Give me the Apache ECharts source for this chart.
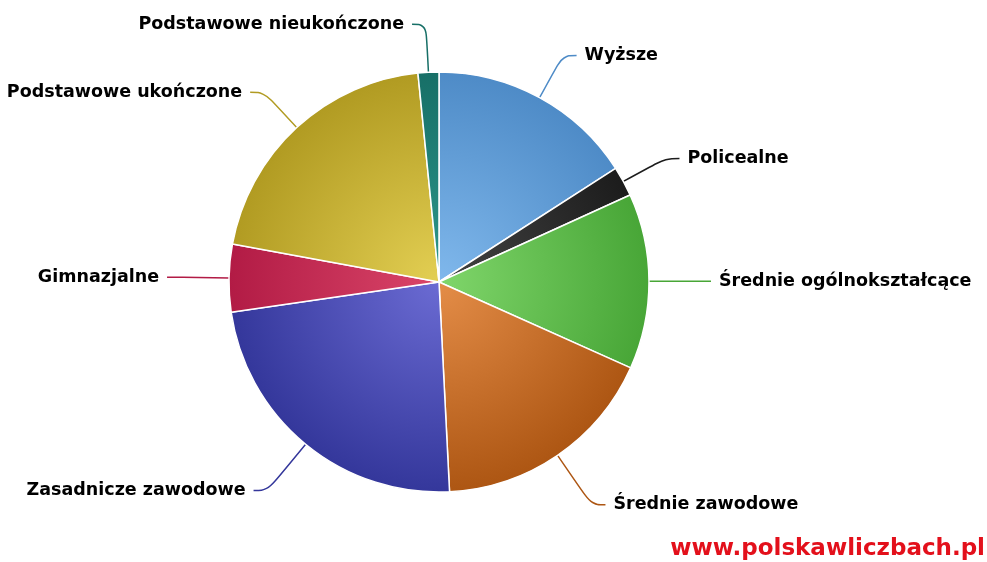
<!DOCTYPE html>
<html>
<head>
<meta charset="utf-8">
<script src="https://cdn.jsdelivr.net/npm/echarts@6/dist/echarts.min.js"></script>
<style>
  html, body { margin: 0; padding: 0; background: #fff; }
  #chart { width: 987px; height: 562px; }
</style>
</head>
<body>
<div id="chart"></div>
<script>
// wykształcenie - udział procentowy
var categories = ['Wyższe', 'Policealne', 'Średnie ogólnokształcące', 'Średnie zawodowe',
                  'Zasadnicze zawodowe', 'Gimnazjalne', 'Podstawowe ukończone', 'Podstawowe nieukończone'];
var values = [15.9, 2.3, 13.5, 17.5, 23.5, 5.2, 20.5, 1.6];

// kolor krawędzi / środka
var edgeColors   = ['#4e8bc7', '#1c1c1c', '#48a637', '#ad5613', '#34379b', '#b21b45', '#b19b22', '#176f67'];
var centerColors = ['#80b8ec', '#444444', '#80d66b', '#e48d48', '#6b6bd3', '#da4669', '#e3cf53', '#2c978b'];
var lineLen = [48, 48, 48, 60, 60, 48, 48, 48];

var cx = 439, cy = 282, R = 210;

var chart = echarts.init(document.getElementById('chart'));
var option = {
    animation: false,
    graphic: [{
        type: 'text',
        right: 2,
        bottom: 1,
        style: {
            text: 'www.polskawliczbach.pl',
            fill: '#e3101b',
            font: 'bold 23px "DejaVu Sans"'
        }
    }],
    series: [{
        type: 'pie',
        center: [cx, cy],
        radius: R,
        startAngle: 90,
        clockwise: true,
        avoidLabelOverlap: false,
        itemStyle: {
            borderColor: '#ffffff',
            borderWidth: 1.5
        },
        label: {
            show: true,
            color: '#000',
            fontFamily: 'DejaVu Sans',
            fontWeight: 'bold',
            fontSize: 17.5,
            distanceToLabelLine: 8
        },
        labelLine: {
            show: true,
            length2: 14,
            smooth: 0.4,
            lineStyle: { width: 1.5 }
        },
        data: categories.map(function(name, i){
            return {
                name: name,
                value: values[i],
                itemStyle: {
                    color: {
                        type: 'radial', x: cx, y: cy, r: R, global: true,
                        colorStops: [
                            { offset: 0, color: centerColors[i] },
                            { offset: 1, color: edgeColors[i] }
                        ]
                    }
                },
                labelLine: { length: lineLen[i], lineStyle: { color: edgeColors[i] } }
            };
        })
    }]
};
chart.setOption(option);
</script>
</body>
</html>
